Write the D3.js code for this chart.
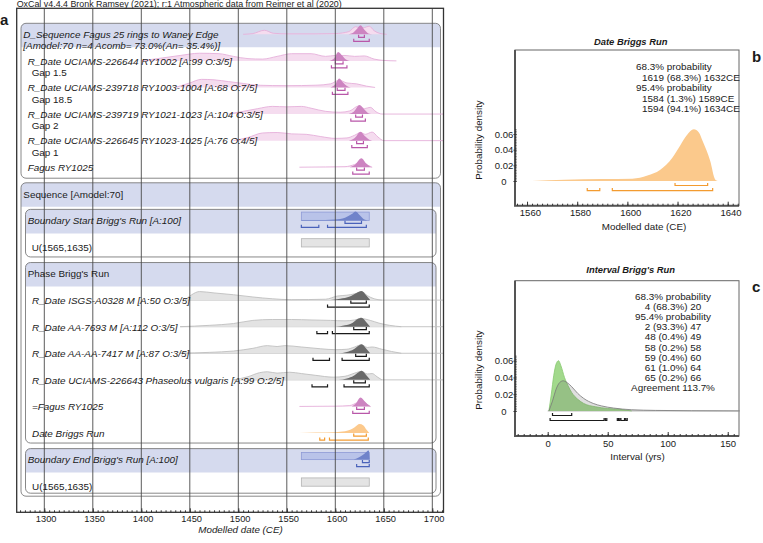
<!DOCTYPE html>
<html><head><meta charset="utf-8">
<script src="https://cdn.jsdelivr.net/npm/d3@7"></script>
<style>
body{margin:0;background:#fff}
svg{display:block}
text{font-family:"Liberation Sans",Arial,Helvetica,sans-serif;fill:#1a1a1a}
</style></head>
<body><svg id="chart" width="763" height="543"></svg>
<script>
// ---------------- DATA ----------------
const headerText = "OxCal v4.4.4 Bronk Ramsey (2021); r:1 Atmospheric data from Reimer et al (2020)";
const aTicks = [1300,1350,1400,1450,1500,1550,1600,1650,1700];
const bTicks = [1560,1580,1600,1620,1640];
const cTicks = [0,50,100,150];
const densTicks = [0,0.02,0.04,0.06];

const rowLabels = [
 "D_Sequence Fagus 25 rings to Waney Edge",
 "R_Date UCIAMS-226644 RY1002 [A:99 O:3/5]",
 "R_Date UCIAMS-239718 RY1003-1004 [A:68 O:7/5]",
 "R_Date UCIAMS-239719 RY1021-1023 [A:104 O:3/5]",
 "R_Date UCIAMS-226645 RY1023-1025 [A:76 O:4/5]",
 "Fagus RY1025",
 "Sequence [Amodel:70]",
 "Boundary Start Brigg's Run [A:100]",
 "U(1565,1635)",
 "Phase Brigg's Run",
 "R_Date ISGS-A0328 M [A:50 O:3/5]",
 "R_Date AA-7693 M [A:112 O:3/5]",
 "R_Date AA-AA-7417 M [A:87 O:3/5]",
 "R_Date UCIAMS-226643 Phaseolus vulgaris [A:99 O:2/5]",
 "=Fagus RY1025",
 "Date Briggs Run",
 "Boundary End Brigg's Run [A:100]",
 "U(1565,1635)"
];
const dseqSubLabel = "[Amodel:70 n=4 Acomb= 73.0%(An= 35.4%)]";
const gapLabels = ["", "Gap 1.5", "Gap 18.5", "Gap 2", "Gap 1"];
const uniformPrior = [1565,1635];

// distributions: [calendar year, relative density]
const dseqLike = [[1505,0],[1515,0.08],[1527,0.45],[1536,0.12],[1550,0.05],[1580,0.05],[1600,0.08],[1614,0.3],[1621,0.85],[1626,0.7],[1630,0.75],[1635,0.9],[1640,0.4],[1646,0.1],[1653,0]];
const dseqPost = [[1612,0],[1618,0.15],[1622,0.55],[1626,1],[1630,0.5],[1634,0.1],[1638,0]];
const dseqR68 = [[1624,1630]], dseqR95 = [[1619,1635]];

const like1 = [[1400,0],[1420,0.3],[1440,0.6],[1460,0.85],[1480,0.8],[1495,0.5],[1510,0.25],[1525,0.2],[1540,0.5],[1555,0.8],[1575,0.8],[1590,0.5],[1600,0.6],[1610,0.6],[1620,0.5],[1630,0.55],[1640,0.2],[1650,0.05],[1663,0]];
const post1 = [[1594,0],[1599,0.3],[1603,1],[1607,0.6],[1611,0.15],[1615,0]];
const r68_1 = [[1600,1608]], r95_1 = [[1596,1612]];

const like2 = [[1435,0],[1450,0.5],[1462,0.9],[1475,0.85],[1490,0.65],[1505,0.45],[1520,0.25],[1550,0.2],[1580,0.25],[1595,0.4],[1604,0.8],[1612,0.5],[1622,0.4],[1632,0.15],[1641,0]];
const post2 = [[1595,0],[1600,0.35],[1604,1],[1608,0.55],[1612,0.15],[1616,0]];
const r68_2 = [[1602,1610]], r95_2 = [[1597,1613]];

const like3 = [[1490,0],[1505,0.3],[1520,0.6],[1535,0.85],[1550,0.8],[1565,0.85],[1575,0.65],[1590,0.3],[1605,0.2],[1615,0.35],[1624,0.9],[1630,0.6],[1636,0.75],[1642,0.25],[1648,0],[1712,0]];
const post3 = [[1614,0],[1619,0.25],[1625,1],[1630,0.5],[1634,0.1],[1637,0]];
const r68_3 = [[1621,1628]], r95_3 = [[1616,1631]];

const like4 = [[1495,0],[1510,0.35],[1525,0.85],[1540,0.9],[1555,0.75],[1570,0.7],[1585,0.45],[1600,0.25],[1612,0.3],[1620,0.6],[1626,0.9],[1631,0.7],[1638,0.95],[1644,0.4],[1650,0],[1712,0]];
const post4 = [[1614,0],[1620,0.3],[1626,1],[1631,0.45],[1635,0.1],[1638,0]];
const r68_4 = [[1622,1629]], r95_4 = [[1617,1633]];

const like5 = [[1563,0],[1590,0.03],[1610,0.06],[1620,0.3],[1627,0.6],[1632,0.3],[1638,0]];
const post5 = [[1615,0],[1620,0.25],[1627,1],[1632,0.4],[1636,0.05],[1638,0]];
const r68_5 = [[1622,1630]], r95_5 = [[1618,1635]];

const startPost = [[1565,0.03],[1590,0.05],[1600,0.1],[1610,0.3],[1617,0.7],[1621,1],[1625,0.6],[1630,0.1],[1633,0]];
const startR68 = [[1610,1627]], startR95 = [[1565,1583],[1592,1632]];

const like10 = [[1445,0],[1452,0.6],[1460,0.95],[1475,0.8],[1495,0.6],[1515,0.35],[1535,0.15],[1555,0.05],[1590,0.1],[1602,0.45],[1612,0.55],[1620,0.7],[1627,0.95],[1633,0.5],[1640,0.15],[1648,0]];
const post10 = [[1595,0],[1605,0.15],[1615,0.4],[1622,0.8],[1627,1],[1632,0.5],[1636,0]];
const r68_10 = [[1616,1632]], r95_10 = [[1592,1635]];

const like11 = [[1440,0],[1470,0.15],[1495,0.35],[1515,0.7],[1535,0.8],[1555,0.8],[1575,0.75],[1595,0.7],[1610,0.65],[1620,0.75],[1627,0.9],[1636,0.7],[1645,0.4],[1656,0.15],[1668,0]];
const post11 = [[1600,0],[1610,0.15],[1618,0.45],[1623,0.85],[1627,1],[1632,0.5],[1636,0]];
const r68_11 = [[1619,1632]], r95_11 = [[1581,1592],[1597,1635]];

const like12 = [[1440,0],[1470,0.1],[1495,0.25],[1515,0.55],[1530,0.85],[1540,0.75],[1548,0.85],[1565,0.7],[1585,0.5],[1600,0.4],[1612,0.45],[1620,0.7],[1627,0.95],[1633,0.65],[1638,0.7],[1648,0.45],[1658,0.2],[1668,0]];
const post12 = [[1603,0],[1612,0.15],[1619,0.45],[1624,0.85],[1627,1],[1632,0.5],[1636,0]];
const r68_12 = [[1621,1632]], r95_12 = [[1577,1594],[1607,1635]];

const like13 = [[1495,0],[1510,0.35],[1522,0.8],[1530,0.9],[1540,0.75],[1553,0.85],[1565,0.7],[1580,0.5],[1598,0.3],[1610,0.4],[1620,0.75],[1627,0.95],[1633,0.65],[1638,0.7],[1643,0.35],[1648,0]];
const post13 = [[1603,0],[1612,0.15],[1619,0.45],[1624,0.85],[1627,1],[1632,0.5],[1636,0]];
const r68_13 = [[1619,1631]], r95_13 = [[1576,1592],[1609,1635]];

const like14 = [[1563,0],[1600,0.03],[1615,0.1],[1622,0.4],[1627,0.6],[1632,0.3],[1636,0]];
const post14 = [[1617,0],[1621,0.3],[1626,1],[1631,0.5],[1635,0.1],[1637,0]];
const r68_14 = [[1622,1630]], r95_14 = [[1618,1635]];

const post15 = [[1563,0],[1580,0.05],[1600,0.1],[1610,0.2],[1616,0.4],[1620,0.65],[1625,1],[1629,0.85],[1632,0.4],[1635,0]];
const r68_15 = [[1619,1632]], r95_15 = [[1584,1589],[1594,1634]];

const endPost = [[1619,0],[1625,0.3],[1630,0.65],[1634.5,1],[1635.5,0]];
const endR68 = [[1628,1635]], endR95 = [[1622,1635]];

// panel b
const bTitle = "Date Briggs Run";
const bDensity = [[1562,0],[1575,0.0015],[1590,0.0025],[1602,0.003],[1608,0.007],[1613,0.014],[1618,0.03],[1621,0.045],[1623.6,0.058],[1626.5,0.066],[1628.5,0.062],[1630,0.051],[1633,0.026],[1635,0.002],[1636,0]];
const bR68 = [[1619,1632]], bR95 = [[1584,1589],[1594,1634]];
const bStats = ["68.3% probability","1619 (68.3%) 1632CE","95.4% probability","1584 (1.3%) 1589CE","1594 (94.1%) 1634CE"];

// panel c
const cTitle = "Interval Brigg's Run";
const cPosterior = [[1,0],[3,0.02],[5,0.042],[7,0.056],[9,0.06],[11,0.054],[14,0.04],[17,0.03],[20,0.022],[25,0.014],[30,0.009],[40,0.005],[50,0.003],[60,0.002],[70,0]];
const cPrior = [[1,0],[4,0.012],[7,0.026],[10,0.034],[13,0.036],[16,0.034],[20,0.029],[25,0.021],[30,0.015],[38,0.009],[45,0.006],[55,0.0035],[70,0.0015],[90,0.0007],[120,0.0003],[160,0.0001]];
const cR68 = [[4,20]], cR95 = [[2,47],[48,49],[58,58],[59,60],[61,64],[65,66]];
const cStats = ["68.3% probability","4 (68.3%) 20","95.4% probability","2 (93.3%) 47","48 (0.4%) 49","58 (0.2%) 58","59 (0.4%) 60","61 (1.0%) 64","65 (0.2%) 66","Agreement 113.7%"];

// ---------------- DRAW ----------------
const svg = d3.select("#chart");
const FONT = "'Liberation Sans',Arial,sans-serif";
const LABEL_SIZE = 9.9, TICK_SIZE = 9.3;
const scheme = {
  pink:  {likeFill:"#f5dcef", likeStroke:"#e5b0da", post:"#cd84c1", br:"#b957a9"},
  gray:  {likeFill:"#e3e3e3", likeStroke:"#c0c0c0", post:"#696969", br:"#1a1a1a"},
  orange:{post:"#fcc98c", br:"#f39b30"},
  blue:  {rectFill:"#b9c3e9", rectStroke:"#8e9bd6", post:"#7083ca", br:"#4a62ba"},
  uni:   {rectFill:"#e4e4e4", rectStroke:"#b3b3b3"}
};
const rows = [
 {i:0, s:"pink", like:dseqLike, post:dseqPost, r68:dseqR68, r95:dseqR95},
 {i:1, s:"pink", like:like1, post:post1, r68:r68_1, r95:r95_1},
 {i:2, s:"pink", like:like2, post:post2, r68:r68_2, r95:r95_2},
 {i:3, s:"pink", like:like3, post:post3, r68:r68_3, r95:r95_3},
 {i:4, s:"pink", like:like4, post:post4, r68:r68_4, r95:r95_4},
 {i:5, s:"pink", like:like5, post:post5, r68:r68_5, r95:r95_5},
 {i:7, s:"blue", rect:true, post:startPost, r68:startR68, r95:startR95},
 {i:8, s:"uni", rect:true},
 {i:10, s:"gray", like:like10, post:post10, r68:r68_10, r95:r95_10, line:true},
 {i:11, s:"gray", like:like11, post:post11, r68:r68_11, r95:r95_11, line:true},
 {i:12, s:"gray", like:like12, post:post12, r68:r68_12, r95:r95_12, line:true},
 {i:13, s:"gray", like:like13, post:post13, r68:r68_13, r95:r95_13, line:true},
 {i:14, s:"pink", like:like14, post:post14, r68:r68_14, r95:r95_14},
 {i:15, s:"orange", post:post15, r68:r68_15, r95:r95_15},
 {i:16, s:"blue", rect:true, rectH:0.8, post:endPost, r68:endR68, r95:endR95},
 {i:17, s:"uni", rect:true}
];
const italicRows = new Set([0,1,2,3,4,5,7,10,11,12,13,14,15,16]);
const labelX = [23.3,27.7,27.7,27.7,27.7,27.7,23.3,27.7,31.7,27.7,32,32,32,32,32,32,27.7,32];

const xA = d3.scaleLinear([1300,1700],[44.3,432.3]);
const rowY = d3.scaleLinear([0,17],[34.3,486.2]);
const hA = d3.scaleLinear([0,1],[0,9]);
const frameL = 16.7, frameR = 443.5, frameT = 8.3, frameB = 512.3;

// header text
svg.append("text").attr("x",16.7).attr("y",6.8).attr("font-size",8.9).text(headerText);
svg.append("text").attr("x",0).attr("y",24.5).attr("font-size",15).attr("font-weight","bold").text("a");

// boxes
const boxes = [
 {x1:21, x2:440.5, top:rowY(0)-11, band:rowY(0)+13, bottom:rowY(5)+11},
 {x1:21, x2:440.5, top:rowY(6)-11, band:rowY(6)+13, bottom:rowY(17)+10},
 {x1:25.5, x2:436, top:rowY(7)-11, band:rowY(7)+13, bottom:rowY(8)+10},
 {x1:25.5, x2:436, top:rowY(9)-11, band:rowY(9)+13, bottom:rowY(15)+10},
 {x1:25.5, x2:436, top:rowY(16)-11, band:rowY(16)+13, bottom:rowY(17)+7}
];
const gBox = svg.append("g");
boxes.forEach(b => {
  const r = 5;
  gBox.append("path")
    .attr("d", `M${b.x1},${b.band}V${b.top+r}Q${b.x1},${b.top} ${b.x1+r},${b.top}H${b.x2-r}Q${b.x2},${b.top} ${b.x2},${b.top+r}V${b.band}Z`)
    .attr("fill","#d5daee");
  gBox.append("rect").attr("x",b.x1).attr("y",b.top).attr("width",b.x2-b.x1).attr("height",b.bottom-b.top)
    .attr("rx",r).attr("fill","none").attr("stroke","#7a7a7a").attr("stroke-width",0.9);
});

// distributions
const gDist = svg.append("g");
function bracket(g, x, ranges, y, color){
  ranges.forEach(([a,b]) => {
    const x1 = x(a), x2 = Math.max(x(b), x(a)+1.5);
    g.append("path").attr("d",`M${x1},${y-2.6}V${y}H${x2}V${y-2.6}`)
      .attr("fill","none").attr("stroke",color).attr("stroke-width",1.2);
  });
}
rows.forEach(r => {
  const base = rowY(r.i);
  const sc = scheme[r.s];
  const area = d3.area().x(d=>xA(d[0])).y0(base).y1(d=>base-hA(d[1])).curve(d3.curveMonotoneX);
  const line = d3.line().x(d=>xA(d[0])).y(d=>base-hA(d[1])).curve(d3.curveMonotoneX);
  if (r.line) {
    gDist.append("line").attr("x1",xA(r.like[0][0])).attr("x2",frameR).attr("y1",base).attr("y2",base)
      .attr("stroke",sc.likeStroke).attr("stroke-width",0.9);
  }
  if (r.like) {
    gDist.append("path").datum(r.like).attr("d",area).attr("fill",sc.likeFill);
    gDist.append("path").datum(r.like).attr("d",line).attr("fill","none").attr("stroke",sc.likeStroke).attr("stroke-width",0.9);
  }
  if (r.rect) {
    const h = hA(r.rectH || 0.92);
    gDist.append("rect").attr("x",xA(uniformPrior[0])).attr("y",base-h)
      .attr("width",xA(uniformPrior[1])-xA(uniformPrior[0])).attr("height",h)
      .attr("fill",sc.rectFill).attr("stroke",sc.rectStroke).attr("stroke-width",0.8);
  }
  if (r.post) {
    gDist.append("path").datum(r.post).attr("d",area).attr("fill",sc.post);
  }
  if (r.r68) bracket(gDist, xA, r.r68, base+3, sc.br);
  if (r.r95) bracket(gDist, xA, r.r95, base+7, sc.br);
});

// grid lines
const gGrid = svg.append("g");
aTicks.forEach(t => gGrid.append("line").attr("x1",xA(t)).attr("x2",xA(t)).attr("y1",frameT).attr("y2",frameB)
  .attr("stroke","#4a4a4a").attr("stroke-width",0.9));

// labels
const gLab = svg.append("g").attr("font-size",LABEL_SIZE);
rowLabels.forEach((t,i) => {
  gLab.append("text").attr("x",labelX[i]).attr("y",rowY(i)+3.8)
    .attr("font-style",italicRows.has(i)?"italic":"normal").text(t);
});
gLab.append("text").attr("x",23.3).attr("y",rowY(0)+14.8).attr("font-style","italic").text(dseqSubLabel);
gapLabels.forEach((t,i) => { if (t) gLab.append("text").attr("x",31.7).attr("y",rowY(i)+15.3).text(t); });

// frame + axis a
svg.append("rect").attr("x",frameL).attr("y",frameT).attr("width",frameR-frameL).attr("height",frameB-frameT)
  .attr("fill","none").attr("stroke","#333").attr("stroke-width",1.3);
const axA = svg.append("g").attr("transform",`translate(0,${frameB})`)
  .call(d3.axisBottom(xA).tickValues(aTicks).tickSize(-4).tickPadding(3).tickFormat(d3.format("d")));
const axAm = svg.append("g").attr("transform",`translate(0,${frameB})`)
  .call(d3.axisBottom(xA).tickValues(d3.range(1275,1712,5)).tickSize(-2).tickFormat(""));
[axA,axAm].forEach(g=>{g.select(".domain").remove(); g.selectAll("line").attr("stroke","#333");});
axA.selectAll("text").attr("font-size",TICK_SIZE).attr("font-family",FONT).attr("fill","#222").attr("dx","0.15em");
svg.append("text").attr("x",240.5).attr("y",532.5).attr("text-anchor","middle").attr("font-size",9.8)
  .attr("font-style","italic").text("Modelled date (CE)");

// ---------- panel helper ----------
function panel(o){
  const g = svg.append("g");
  g.append("text").attr("x",630.7).attr("y",o.titleY).attr("text-anchor","middle").attr("font-size",9.4)
    .attr("font-weight","bold").attr("font-style","italic").text(o.title);
  g.append("text").attr("x",752).attr("y",o.letterY).attr("font-size",15).attr("font-weight","bold").text(o.letter);
  g.append("rect").attr("x",515).attr("y",o.top).attr("width",224).attr("height",o.bottom-o.top)
    .attr("fill","none").attr("stroke","#666").attr("stroke-width",1);
  g.append("path").attr("d",`M515,${o.top}V${o.bottom}H739`).attr("fill","none").attr("stroke","#555").attr("stroke-width",2);
  const ax = g.append("g").attr("transform",`translate(0,${o.bottom})`)
    .call(d3.axisBottom(o.x).tickValues(o.xTicks).tickSize(-4).tickPadding(4).tickFormat(d3.format("d")));
  const axm = g.append("g").attr("transform",`translate(0,${o.bottom})`)
    .call(d3.axisBottom(o.x).tickValues(o.minor).tickSize(-2).tickFormat(""));
  const ay = g.append("g").attr("transform","translate(516.5,0)")
    .call(d3.axisLeft(o.y).tickValues(densTicks).tickSize(3).tickFormat(d=>d===0?"0":d3.format(".2f")(d)));
  const aym = g.append("g").attr("transform","translate(516.5,0)")
    .call(d3.axisLeft(o.y).tickValues(d3.range(0,0.0661,0.002)).tickSize(1.5).tickFormat(""));
  [ax,axm,ay,aym].forEach(a=>{a.select(".domain").remove(); a.selectAll("line").attr("stroke","#333");});
  [ax,ay].forEach(a=>a.selectAll("text").attr("font-size",TICK_SIZE+0.2).attr("font-family",FONT).attr("fill","#222"));
  ay.selectAll("text").attr("text-anchor","middle").attr("x",-12.5);
  if (o.xdx) ax.selectAll("text").attr("dx",o.xdx);
  g.append("text").attr("x",o.xLabelX).attr("y",o.bottom+24.3).attr("text-anchor","middle").attr("font-size",9.8).text(o.xLabel);
  g.append("text").attr("transform",`translate(481.5,${o.y(0)-41}) rotate(-90)`).attr("text-anchor","middle")
    .attr("font-size",9.8).text("Probability density");
  return g;
}

// panel b
const xB = d3.scaleLinear([1555.2,1644.5],[515,739]);
const yB = d3.scaleLinear([0,0.06],[181,134]);
const gB = panel({title:bTitle, titleY:45.3, letter:"b", letterY:62, top:50, bottom:205.7, x:xB, y:yB,
  xTicks:bTicks, minor:d3.range(1556,1645,2), xLabel:"Modelled date (CE)", xLabelX:644, xdx:"0.3em"});
gB.append("path").datum(bDensity)
  .attr("d", d3.area().x(d=>xB(d[0])).y0(yB(0)).y1(d=>yB(d[1])).curve(d3.curveMonotoneX))
  .attr("fill","#fbc98c");
bracket(gB, xB, bR68, 185.5, "#f39b30");
bracket(gB, xB, bR95, 190.7, "#f39b30");
bStats.forEach((t,i) => {
  const hdr = t.includes("probability");
  gB.append("text").attr("x",hdr?636:642).attr("y",70.3+i*10.4).attr("font-size",LABEL_SIZE).text(t);
});

// panel c
const xC = d3.scaleLinear([-27.25,159.4],[515,739]);
const yC = d3.scaleLinear([0,0.06],[411,360.7]);
const gC = panel({title:cTitle, titleY:272.6, letter:"c", letterY:292, top:280.7, bottom:436, x:xC, y:yC,
  xTicks:cTicks, minor:d3.range(-25,160,5), xLabel:"Interval (yrs)", xLabelX:637.5});
const areaC = d3.area().x(d=>xC(d[0])).y0(yC(0)).y1(d=>yC(d[1])).curve(d3.curveMonotoneX);
const lineC = d3.line().x(d=>xC(d[0])).y(d=>yC(d[1])).curve(d3.curveMonotoneX);
gC.append("line").attr("x1",xC(0)).attr("x2",739).attr("y1",yC(0)).attr("y2",yC(0)).attr("stroke","#aaa").attr("stroke-width",0.8);
gC.append("path").datum(cPosterior).attr("d",areaC).attr("fill","#a2d98c");
gC.append("path").datum(cPosterior).attr("d",lineC).attr("fill","none").attr("stroke","#86c96e").attr("stroke-width",0.8);
gC.append("path").datum(cPrior).attr("d",areaC).attr("fill","rgba(110,110,110,0.22)");
gC.append("path").datum(cPrior).attr("d",lineC).attr("fill","none").attr("stroke","#777").attr("stroke-width",0.8);
bracket(gC, xC, cR68, 415.5, "#1a1a1a");
bracket(gC, xC, cR95, 420.5, "#1a1a1a");
cStats.forEach((t,i) => {
  gC.append("text").attr("x",673).attr("y",299.6+i*10.2).attr("text-anchor","middle").attr("font-size",LABEL_SIZE).text(t);
});
</script></body></html>
